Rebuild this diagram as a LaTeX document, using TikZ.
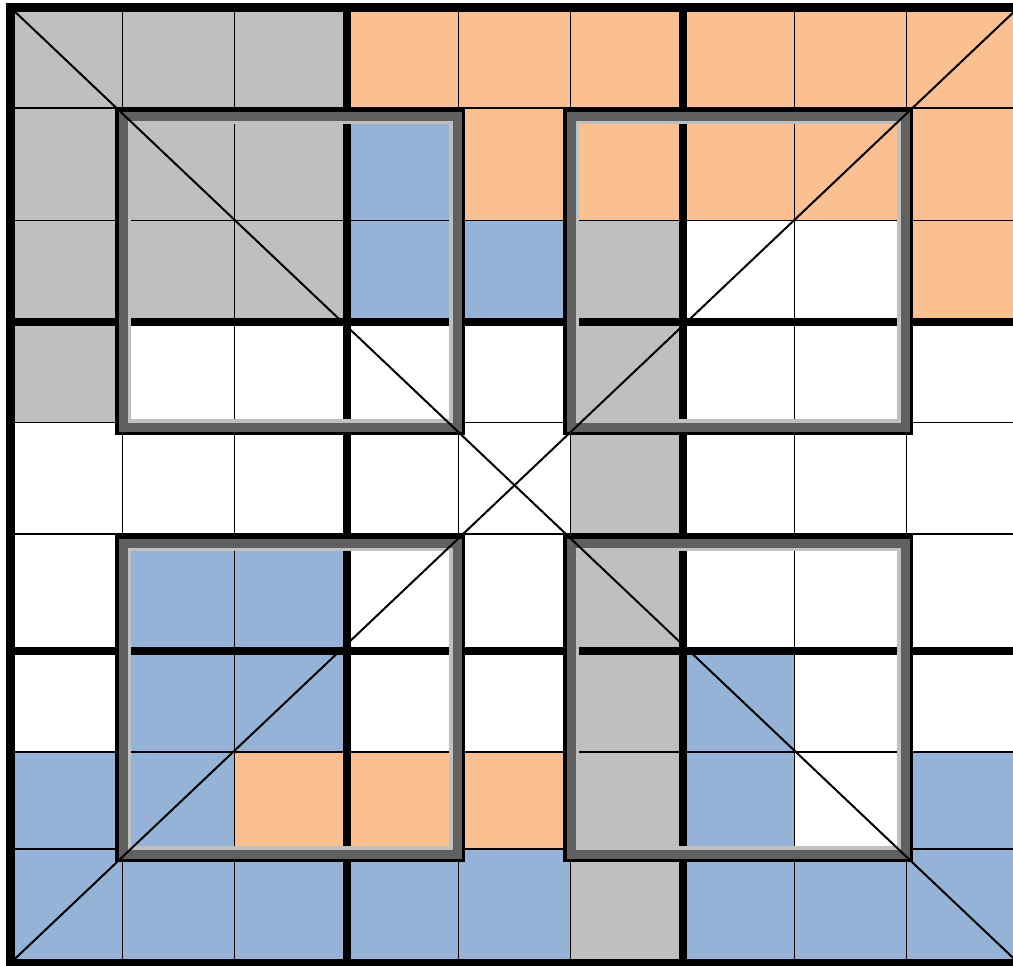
\documentclass[tikz,border=0pt]{standalone}
\usepackage{tikz}
\definecolor{cG}{HTML}{BFBFBF}
\definecolor{cO}{HTML}{FAC090}
\definecolor{cB}{HTML}{95B3D7}
\definecolor{cW}{HTML}{FFFFFF}
\definecolor{framedark}{HTML}{606060}
\definecolor{framelight}{HTML}{C0C0C0}

\begin{document}
\begin{tikzpicture}[x=0.5pt, y=-0.5pt,
  thinline/.style={line width=0.85pt},
  boxline/.style={line width=4pt},
  frameout/.style={draw=black, line width=5pt},
  framemid/.style={draw=framedark, line width=4.5pt},
  framein/.style={draw=framelight, line width=1.75pt},
  diag/.style={line width=1pt}]
\useasboundingbox (0,0) rectangle (1013,965);

% cells, one row per entry: top, bottom, colours
\foreach \yt/\yb/\cl in {
    7.5/108/{G,G,G,O,O,O,O,O,O},
    108/220.5/{G,G,G,B,O,O,O,O,O},
    220.5/321.5/{G,G,G,B,B,G,W,W,O},
    321.5/422.5/{G,W,W,W,W,G,W,W,W},
    422.5/534/{W,W,W,W,W,G,W,W,W},
    534/650.5/{W,B,B,W,W,G,W,W,W},
    650.5/752/{W,B,B,W,W,G,B,W,W},
    752/849/{B,B,O,O,O,G,B,W,B},
    849/963/{B,B,B,B,B,G,B,B,B}}
  \foreach \c [count=\i from 0] in \cl
    \fill[fill=c\c] (10.5+112*\i,\yt) rectangle (122.5+112*\i,\yb);

\coordinate (nw) at (10.5,7.5);
\coordinate (ne) at (1018.5,7.5);
\coordinate (sw) at (10.5,963);
\coordinate (se) at (1018.5,963);

% grid
\foreach \x in {122.5,234.5,458.5,570.5,794.5,906.5}
  \draw[thinline] (\x,7.5) -- (\x,963);
\foreach \y in {108,220.5,422.5,534,752,849}
  \draw[thinline] (10.5,\y) -- (1018.5,\y);
\foreach \x in {346.5,682.5}
  \draw[boxline] (\x,7.5) -- (\x,963);
\foreach \y in {321.5,650.5}
  \draw[boxline] (10.5,\y) -- (1018.5,\y);
\draw[line width=4.5pt] (nw) rectangle (se);

% the four windows
\foreach \wx/\wy in {115/108, 563/108, 115/535, 563/535} {
  \draw[frameout] (\wx+5,\wy+5) rectangle (\wx+345,\wy+322);
  \draw[framemid] (\wx+8,\wy+8) rectangle (\wx+342,\wy+319);
  \draw[framein] (\wx+14.25,\wy+14.25) rectangle (\wx+335.75,\wy+312.75);
}

% diagonals
\draw[diag] (nw) -- (se);
\draw[diag] (ne) -- (sw);
\end{tikzpicture}
\end{document}
